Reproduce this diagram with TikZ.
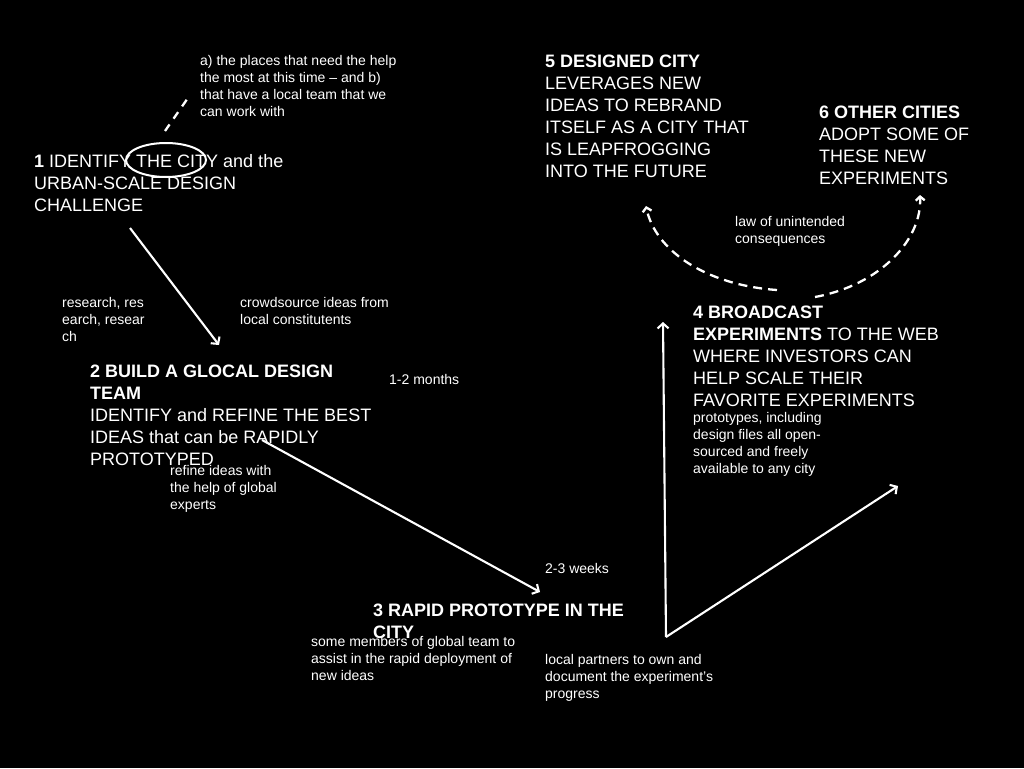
\documentclass[tikz,border=0pt]{standalone}
\usepackage{fontspec}
\setmainfont{Liberation Sans}
\usetikzlibrary{arrows.meta,shapes.geometric}
\begin{document}
\begin{tikzpicture}[x=1pt,y=-1pt,
  big/.style={text=white, anchor=base west, align=left, inner sep=0pt, font=\fontsize{18}{22}\selectfont},
  small/.style={text=white, anchor=base west, align=left, inner sep=0pt, font=\fontsize{14}{17}\selectfont},
  flow/.style={draw=white, line width=2.1pt, -{Straight Barb[length=5pt,width=11pt]}},
  dashflow/.style={draw=white, line width=2.3pt, dash pattern=on 9pt off 6pt, -{Straight Barb[length=4pt,width=9pt]}},
  dashplain/.style={draw=white, line width=2.3pt, dash pattern=on 8pt off 7pt},
  ring/.style={draw=white, line width=2pt, ellipse, minimum width=80pt, minimum height=34pt, inner sep=0pt}
]
\fill[black] (0,0) rectangle (1024,768);
\useasboundingbox (0,0) rectangle (1024,768);

% texts (anchored at the baseline of the last line)
\node[small] (na) at (200,116) {a) the places that need the help\\the most at this time -- and b)\\that have a local team that we\\can work with};
\node[big] (n1) at (34,211) {\textbf{1} IDENTIFY THE CITY and the\\URBAN-SCALE DESIGN\\CHALLENGE};
\node[ring] (ring) at (166,160) {};

\node[big] (n5) at (545,177) {\textbf{5 DESIGNED CITY}\\LEVERAGES NEW\\IDEAS TO REBRAND\\ITSELF AS A CITY THAT\\IS LEAPFROGGING\\INTO THE FUTURE};
\node[big] (n6) at (819,184) {\textbf{6 OTHER CITIES}\\ADOPT SOME OF\\THESE NEW\\EXPERIMENTS};
\node[small] (law) at (735,243) {law of unintended\\consequences};

\node[small] (research) at (62,341) {research, res\\earch, resear\\ch};
\node[small] (crowd) at (240,324) {crowdsource ideas from\\local constitutents};
\node[big] (n2) at (90,465) {\textbf{2 BUILD A GLOCAL DESIGN}\\\textbf{TEAM}\\IDENTIFY and REFINE THE BEST\\IDEAS that can be RAPIDLY\\PROTOTYPED};
\node[small] (months) at (389,384) {1-2 months};
\node[small] (refine) at (170,509) {refine ideas with\\the help of global\\experts};

\node[small] (weeks) at (545,573) {2-3 weeks};
\node[big] (n3) at (373,638) {\textbf{3 RAPID PROTOTYPE IN THE}\\\textbf{CITY}};
\node[small] (members) at (311,680) {some members of global team to\\assist in the rapid deployment of\\new ideas};
\node[small] (partners) at (545,698) {local partners to own and\\document the experiment's\\progress};

\node[big] (n4) at (693,406) {\textbf{4 BROADCAST}\\\textbf{EXPERIMENTS} TO THE WEB\\WHERE INVESTORS CAN\\HELP SCALE THEIR\\FAVORITE EXPERIMENTS};
\node[small] (protos) at (693,473) {prototypes, including\\design files all open-\\sourced and freely\\available to any city};

% connector end points
\coordinate (ds) at (165,131);
\coordinate (de) at (190,95);
\coordinate (c1s) at (130,228);
\coordinate (c1e) at (219,345);
\coordinate (c2s) at (262,440);
\coordinate (c2e) at (540,592);
\coordinate (c3) at (666,637);
\coordinate (c4up) at (663,322);
\coordinate (c4r) at (898,486);
\coordinate (arcL) at (777,290);
\coordinate (arcR) at (815,297);
\coordinate (t5) at (646,206);
\coordinate (t6) at (920,195);

% connectors
\draw[dashplain] (ds) -- (de);
\draw[flow] (c1s) -- (c1e);
\draw[flow] (c2s) -- (c2e);
\draw[flow] (c3) -- (c4up);
\draw[flow] (c3) -- (c4r);
\draw[dashflow] (arcL) .. controls (705,285) and (655,250) .. (t5);
\draw[dashflow] (arcR) .. controls (880,285) and (922,240) .. (t6);
\end{tikzpicture}
\end{document}
